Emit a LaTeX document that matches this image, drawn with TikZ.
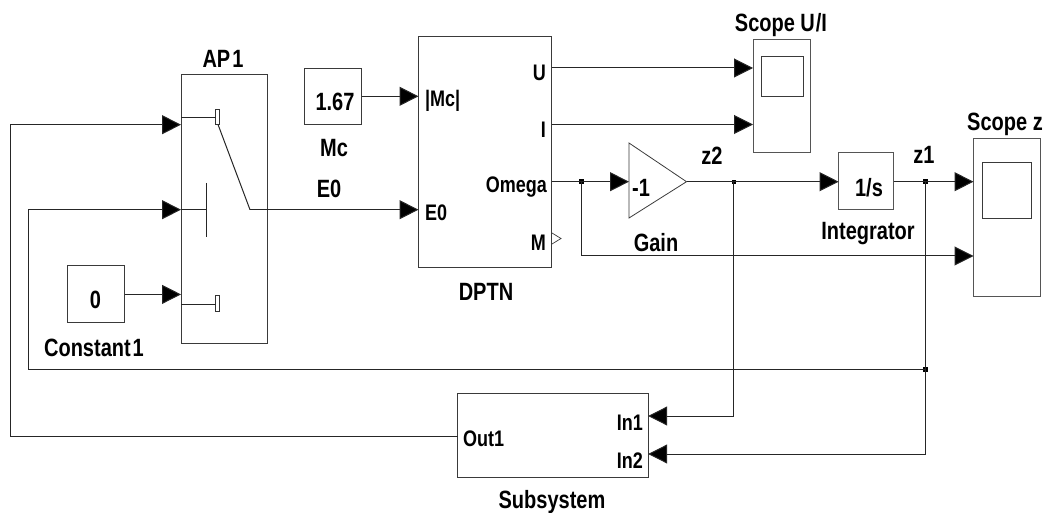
\documentclass[tikz,border=0pt]{standalone}
\usepackage{fontspec}
\setmainfont{Liberation Sans}[FakeStretch=0.8]
\usetikzlibrary{arrows.meta}
\definecolor{boxc}{HTML}{3A3A3A}
\definecolor{scopec}{HTML}{555555}
\tikzset{
  blk/.style={draw=boxc,line width=1pt,anchor=north west,inner sep=0pt,outer sep=0pt},
  scopeblk/.style={blk,draw=scopec},
  sig/.style={draw=black!85,line width=1pt},
  arr/.style={sig,-{Triangle[length=19pt,width=19pt,fill=black]}},
  dotj/.style={fill=black,draw=none,minimum size=5pt,inner sep=0pt},
  big/.style={font=\bfseries\fontsize{25}{25}\selectfont,inner sep=0pt},
  small/.style={font=\bfseries\fontsize{22.5}{22.5}\selectfont,inner sep=0pt},
  tiny/.style={draw=black!80,line width=.8pt,fill=white,inner sep=0pt,minimum width=3.5pt,minimum height=15.5pt}
}
\begin{document}
\begin{tikzpicture}[x=1pt,y=-1pt]
\useasboundingbox (0,0) rectangle (1045,513);
% blocks
\node[blk,minimum width=86pt,minimum height=268pt] (ap) at (181,75) {};
\node[blk,minimum width=57.5pt,minimum height=56.5pt] (mc) at (304.3,68.3) {};
\node[blk,minimum width=57.5pt,minimum height=57pt] (const) at (67,266) {};
\node[blk,minimum width=133pt,minimum height=231pt] (dptn) at (418.7,36.7) {};
\node[scopeblk,minimum width=57pt,minimum height=113pt] (su) at (753,40) {};
\node[blk,minimum width=41.5pt,minimum height=40pt] (sui) at (761.5,57) {};
\node[scopeblk,minimum width=55pt,minimum height=57pt] (int) at (838.6,153) {};
\node[scopeblk,minimum width=66.5pt,minimum height=158pt] (sz) at (973.5,139) {};
\node[blk,minimum width=49pt,minimum height=56pt] (szi) at (982,163) {};
\node[blk,minimum width=190.5pt,minimum height=84pt] (sub) at (457.7,393) {};
\coordinate (g1) at (629,143);
\coordinate (g2) at (629,218);
\coordinate (g3) at (686.5,181.7);
\draw[draw=boxc,line width=.8pt] (g1) -- (g3) -- (g2) -- cycle;
\coordinate (m1) at (552,233);
\coordinate (m2) at (561,238.5);
\coordinate (m3) at (552,244);
\draw[draw=boxc,line width=.7pt] (m1) -- (m2) -- (m3);
% switch internals
\coordinate (s1a) at (181,117.7);
\coordinate (s1b) at (215.5,117.7);
\node[tiny] (s1) at (217.3,116.8) {};
\coordinate (s1c) at (218,124.5);
\coordinate (s2) at (250,209.7);
\draw[sig] (s1a) -- (s1b);
\draw[sig] (s1c) -- (s2);
\coordinate (m0) at (181,209.7);
\coordinate (m4) at (206,209.7);
\coordinate (m5) at (206,183);
\coordinate (m6) at (206,237);
\draw[sig] (m0) -- (m4);
\draw[sig] (m5) -- (m6);
\coordinate (s3a) at (181,304.3);
\coordinate (s3b) at (215.5,304.3);
\node[tiny] (s3) at (217.3,303.5) {};
\draw[sig] (s3a) -- (s3b);
% ports
\coordinate (ap1) at (181,124.7);
\coordinate (ap2) at (181,209.7);
\coordinate (ap3) at (181,294.4);
\coordinate (cout) at (124.5,294.4);
\coordinate (mcout) at (361.8,96.3);
\coordinate (dmc) at (418.5,96.3);
\coordinate (de0) at (418.5,209.7);
\coordinate (du) at (552,68);
\coordinate (di) at (552,124.5);
\coordinate (dom) at (552,181.7);
\coordinate (su1) at (753,68);
\coordinate (su2) at (753,124.5);
\coordinate (gin) at (629,181.7);
\coordinate (intin) at (838.6,181.7);
\coordinate (intout) at (893.6,181.7);
\coordinate (sz1) at (973.5,181.7);
\coordinate (sz2) at (973.5,256);
\coordinate (subin1) at (648.2,416);
\coordinate (subin2) at (648.2,454);
\coordinate (subout) at (457.7,436);
% junctions
\node[dotj] (jom) at (581,181.7) {};
\node[dotj,minimum size=4pt] (jz2) at (733.6,181.7) {};
\node[dotj] (jz1) at (925.4,181.7) {};
\node[dotj] (jfb) at (925.4,369.3) {};
\coordinate (c1) at (581,256);
\coordinate (c2) at (733.6,416);
\coordinate (c3) at (925.4,454);
\coordinate (c4) at (28.5,369.3);
\coordinate (c5) at (28.5,209.7);
\coordinate (c6) at (10,436);
\coordinate (c7) at (10,124.7);
% connectors
\draw[arr] (cout) -- (ap3);
\draw[arr] (mcout) -- (dmc);
\draw[arr] (s2) -- (de0);
\draw[arr] (du) -- (su1);
\draw[arr] (di) -- (su2);
\draw[arr] (dom) -- (gin);
\draw[arr] (g3) -- (intin);
\draw[arr] (intout) -- (sz1);
\draw[arr] (jom.center) -- (c1) -- (sz2);
\draw[arr] (jz2.center) -- (c2) -- (subin1);
\draw[arr] (jz1.center) -- (c3) -- (subin2);
\draw[arr] (jfb.center) -- (c4) -- (c5) -- (ap2);
\draw[arr] (subout) -- (c6) -- (c7) -- (ap1);
% labels
\node[big] (tap) at (223,59) {AP\kern2pt 1};
\node[big] (tmcv) at (335,102) {1.67};
\node[big] (tmc) at (334,148) {Mc};
\node[big] (te0) at (329,189) {E0};
\node[big] (t0) at (95.5,300) {0};
\node[big] (tcon) at (94,348) {Constant\kern2pt 1};
\node[big] (tdptn) at (486,292) {DPTN};
\node[big] (tsu) at (781,25) {Scope U\kern1pt/I};
\node[big] (tsz) at (1005,124) {Scope z};
\node[big] (tneg) at (641,188) {-1};
\node[big] (tz2) at (712,156) {z2};
\node[big] (tz1) at (924,155) {z1};
\node[big] (tgain) at (656,243) {Gain};
\node[big] (ts) at (869,188) {1/s};
\node[big] (tint) at (868,234) {Integrator};
\node[big] (tsub) at (552,502) {Subsystem};
\node[small,anchor=west] (pmc) at (425,101) {|Mc|};
\node[small,anchor=west] (pe0) at (425,213) {E0};
\node[small,anchor=east] (pu) at (546,73) {U};
\node[small,anchor=east] (pi) at (546,130) {I};
\node[small,anchor=east] (pom) at (547,187) {Omega};
\node[small,anchor=east] (pm) at (546,243) {M};
\node[small,anchor=east] (pi1) at (643,423) {In1};
\node[small,anchor=east] (pi2) at (643,461) {In2};
\node[small,anchor=west] (pout) at (463,439) {Out1};
\end{tikzpicture}
\end{document}
